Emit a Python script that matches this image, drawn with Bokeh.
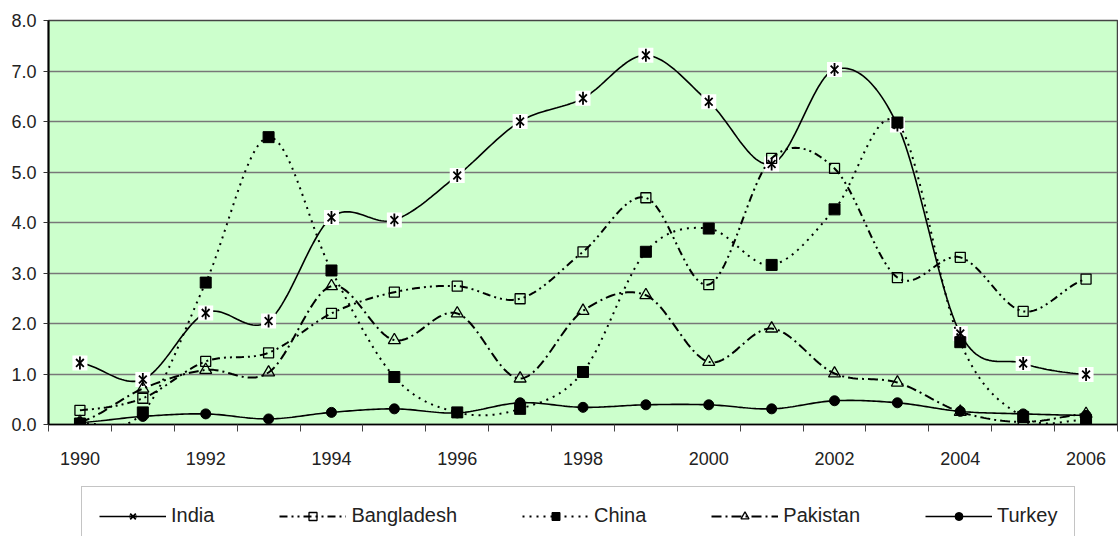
import numpy as np
from bokeh.plotting import figure
from bokeh.layouts import column
from bokeh.models import (Range1d, FixedTicker, NumeralTickFormatter, Legend,
                          LegendItem, PrintfTickFormatter)
from bokeh.embed import file_html
from bokeh.resources import INLINE

years = list(range(1990, 2007))
india = [1.22, 0.89, 2.21, 2.05, 4.10, 4.05, 4.93, 6.00, 6.46, 7.31, 6.39, 5.16, 7.03, 5.93, 1.80, 1.21, 0.99]
bangladesh = [0.28, 0.52, 1.25, 1.42, 2.20, 2.62, 2.74, 2.49, 3.42, 4.49, 2.77, 5.27, 5.07, 2.91, 3.31, 2.24, 2.88]
china = [0.02, 0.24, 2.81, 5.69, 3.05, 0.94, 0.24, 0.31, 1.04, 3.42, 3.88, 3.16, 4.26, 5.98, 1.63, 0.15, 0.09]
pakistan = [0.05, 0.71, 1.08, 1.03, 2.74, 1.67, 2.20, 0.91, 2.25, 2.56, 1.24, 1.90, 1.01, 0.83, 0.25, 0.05, 0.21]
turkey = [0.04, 0.16, 0.21, 0.11, 0.24, 0.31, 0.23, 0.43, 0.34, 0.39, 0.39, 0.31, 0.47, 0.43, 0.26, 0.21, 0.18]

y_ticks = [0, 1, 2, 3, 4, 5, 6, 7, 8]
x_label_years = [1990, 1992, 1994, 1996, 1998, 2000, 2002, 2004, 2006]
series_names = ["India", "Bangladesh", "China", "Pakistan", "Turkey"]

FONT = "Liberation Sans"
TXT = "#222222"


def smooth(xs, ys, n=24):
    xs = np.asarray(xs, float)
    ys = np.asarray(ys, float)
    m = np.empty_like(ys)
    m[1:-1] = (ys[2:] - ys[:-2]) / 2.0
    m[0] = (ys[1] - ys[0]) / 2.0
    m[-1] = (ys[-1] - ys[-2]) / 2.0
    out_x, out_y = [], []
    t = np.linspace(0, 1, n, endpoint=False)
    h00 = 2 * t**3 - 3 * t**2 + 1
    h10 = t**3 - 2 * t**2 + t
    h01 = -2 * t**3 + 3 * t**2
    h11 = t**3 - t**2
    for i in range(len(xs) - 1):
        dx = xs[i + 1] - xs[i]
        out_x.extend(xs[i] + t * dx)
        out_y.extend(h00 * ys[i] + h10 * m[i] + h01 * ys[i + 1] + h11 * m[i + 1])
    out_x.append(xs[-1])
    out_y.append(ys[-1])
    return out_x, out_y


p = figure(width=1118, height=486, output_backend="svg", toolbar_location=None,
           x_range=Range1d(1989.5, 2006.5), y_range=Range1d(0, 8),
           min_border_left=48, min_border_right=1, min_border_top=20,
           min_border_bottom=62)
p.background_fill_color = "#CCFFCC"
p.border_fill_color = "white"
p.outline_line_color = "#444444"
p.outline_line_width = 1.5

# axes
p.yaxis.ticker = FixedTicker(ticks=y_ticks)
p.yaxis.formatter = NumeralTickFormatter(format="0.0")
p.yaxis.axis_line_color = "black"
p.yaxis.axis_line_width = 2
p.yaxis.major_tick_out = 5
p.yaxis.major_tick_in = 0
p.yaxis.major_tick_line_color = "#333333"
p.yaxis.minor_tick_line_color = None
p.yaxis.major_label_standoff = 7
p.yaxis.major_label_text_font = FONT
p.yaxis.major_label_text_font_size = "18px"
p.yaxis.major_label_text_color = TXT

minor = [y - 0.5 for y in years] + [years[-1] + 0.5]
p.xaxis.ticker = FixedTicker(ticks=x_label_years, minor_ticks=minor)
p.xaxis.formatter = PrintfTickFormatter(format="%d")
p.xaxis.axis_line_color = "black"
p.xaxis.axis_line_width = 1.5
p.xaxis.major_tick_line_color = None
p.xaxis.major_tick_out = 7
p.xaxis.minor_tick_out = 7
p.xaxis.minor_tick_in = 0
p.xaxis.minor_tick_line_color = "#444444"
p.xaxis.major_label_standoff = 20
p.xaxis.major_label_text_font = FONT
p.xaxis.major_label_text_font_size = "18px"
p.xaxis.major_label_text_color = TXT

p.xgrid.visible = False
p.ygrid.ticker = FixedTicker(ticks=y_ticks)
p.ygrid.grid_line_color = "#777777"
p.ygrid.grid_line_width = 1.4

styles = {
    "India": dict(line_width=1.6),
    "Bangladesh": dict(line_width=2, line_dash="8 4 2 4 2 4"),
    "China": dict(line_width=2, line_dash="2 5"),
    "Pakistan": dict(line_width=2, line_dash="10 4 2 4"),
    "Turkey": dict(line_width=1.6),
}


def draw(fig, name, xs, ys, with_bg=True):
    rs = []
    sx, sy = smooth(xs, ys)
    rs.append(fig.line(sx, sy, line_color="black", **styles[name]))
    if name == "India":
        if with_bg:
            fig.scatter(xs, ys, marker="square", size=15, fill_color="white", line_color=None)
        rs.append(fig.scatter(xs, ys, marker="x", size=11, line_color="black", line_width=1.8))
        rs.append(fig.scatter(xs, ys, marker="dash", angle=np.pi / 2, size=13,
                              line_color="black", line_width=1.8))
    elif name == "Bangladesh":
        rs.append(fig.scatter(xs, ys, marker="square", size=10, fill_color=None,
                              line_color="black", line_width=1.3))
    elif name == "China":
        rs.append(fig.scatter(xs, ys, marker="square", size=11, fill_color="black",
                              line_color="black"))
    elif name == "Pakistan":
        rs.append(fig.scatter(xs, ys, marker="triangle", size=12, fill_color=None,
                              line_color="black", line_width=1.3))
    else:
        rs.append(fig.scatter(xs, ys, marker="circle", size=10, fill_color="black",
                              line_color="black"))
    return rs


all_values = [india, bangladesh, china, pakistan, turkey]
for name, vals in zip(series_names, all_values):
    draw(p, name, years, vals)

# legend strip (separate figure under the chart); its sample glyphs sit
# outside the strip's visible range so only the legend shows them
q = figure(width=1118, height=50, output_backend="svg", toolbar_location=None,
           x_range=Range1d(0, 1), y_range=Range1d(0, 1),
           x_axis_type=None, y_axis_type=None,
           min_border_left=0, min_border_right=0, min_border_top=0, min_border_bottom=0)
q.outline_line_color = None
q.background_fill_color = "white"
q.border_fill_color = "white"
q.xgrid.visible = False
q.ygrid.visible = False

hidden_x = [-5, -4, -3]
hidden_y = [0.5, 0.5, 0.5]
items = []
for name in series_names:
    rs = draw(q, name, hidden_x, hidden_y, with_bg=False)
    items.append(LegendItem(label=name, renderers=rs))

legend = Legend(items=items, orientation="horizontal", location=(33, -9))
legend.padding = 17
legend.spacing = 65
legend.glyph_width = 67
legend.glyph_height = 20
legend.label_standoff = 5
legend.label_text_font = FONT
legend.label_text_font_size = "20px"
legend.label_text_color = TXT
legend.background_fill_color = "white"
legend.background_fill_alpha = 1
legend.border_line_color = "#8a8a8a"
legend.border_line_width = 1.5
legend.margin = 0
q.add_layout(legend, "center")

layout = column(p, q, spacing=0)
open("out.html", "w").write(file_html(layout, INLINE))
